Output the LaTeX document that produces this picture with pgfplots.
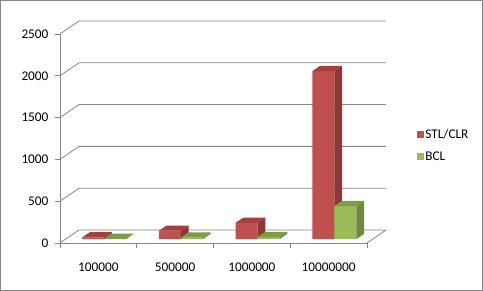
\documentclass[border=0pt]{standalone}
\usepackage{fontspec}
\setmainfont{Carlito}
\usepackage{pgfplots}
\pgfplotsset{compat=1.18}
\definecolor{gridc}{HTML}{868686}
\definecolor{redF}{HTML}{C0504D}
\definecolor{redS}{HTML}{8C3836}
\definecolor{redT}{HTML}{A33F3C}
\definecolor{grnF}{HTML}{9BBB59}
\definecolor{grnS}{HTML}{71893F}
\definecolor{grnT}{HTML}{7E9C47}
\begin{document}
\begin{tikzpicture}[x=1pt,y=1pt]
\draw[gridc, line width=1pt] (0.5,0.5) rectangle (482.5,290.5);
% walls, floor, axes
\begin{axis}[
  at={(60pt,48pt)}, anchor=south west,
  scale only axis, width=307pt, height=209pt,
  xmin=0, xmax=4, ymin=0, ymax=2500,
  clip=false,
  axis x line*=bottom, axis y line*=left,
  axis line style={gridc, line width=0.8pt, -},
  tick align=outside, major tick length=5pt,
  tick style={gridc, line width=0.8pt},
  xtick={0,1,2,3,4}, xticklabels={,,,,},
  extra x ticks={0.5,1.5,2.5,3.5},
  extra x tick labels={100000,500000,1000000,10000000},
  extra x tick style={major tick length=0pt},
  xticklabel style={yshift=-16pt},
  ytick={0,500,1000,1500,2000,2500},
  yticklabels={0,500,1000,1500,2000,2500},
  yticklabel style={xshift=-3pt},
  tick label style={font=\fontsize{13.3}{16}\selectfont, black},
  /pgf/number format/assume math mode=true,
]
\pgfplotsinvokeforeach{0,500,1000,1500,2000,2500}{
  \draw[gridc, line width=0.8pt] (axis cs:0,#1) -- (axis cs:0.2476,{#1+155.5}) -- (axis cs:4.2476,{#1+155.5});
}
\draw[gridc, line width=0.8pt] (axis cs:4,0) -- (axis cs:4.2476,155.5);
\end{axis}
% bars
\begin{axis}[
  at={(65.8pt,51.9pt)}, anchor=south west,
  scale only axis, width=307pt, height=209pt,
  xmin=0, xmax=4, ymin=0, ymax=2500,
  clip=false, hide axis,
  legend style={draw=none, fill=none, at={(1.133,0.545)}, anchor=north west,
    font=\fontsize{13.3}{16}\selectfont, row sep=9pt,
    nodes={inner sep=1.5pt},
    /tikz/every even column/.append style={column sep=3pt}},
  legend cell align=left,
]
% STL/CLR front faces
\addplot[ybar, bar width=22pt, bar shift=-11pt, fill=redF, draw=none,
  legend image code/.code={\fill[redF] (0pt,-3.5pt) rectangle (7pt,3.5pt);}]
  coordinates {(0.5,20) (1.5,100) (2.5,195) (3.5,2010)};
\addlegendentry{STL/CLR}
% STL/CLR side faces
\addplot[fill=redS, draw=none, forget plot] coordinates {(0.5,0) (0.5,20) (0.599,82.2) (0.599,62.2)};
\addplot[fill=redS, draw=none, forget plot] coordinates {(1.5,0) (1.5,100) (1.599,162.2) (1.599,62.2)};
\addplot[fill=redS, draw=none, forget plot] coordinates {(2.5,0) (2.5,195) (2.599,257.2) (2.599,62.2)};
\addplot[fill=redS, draw=none, forget plot] coordinates {(3.5,0) (3.5,2010) (3.599,2072.2) (3.599,62.2)};
% STL/CLR top faces
\addplot[fill=redT, draw=none, forget plot] coordinates {(0.2134,20) (0.5,20) (0.599,82.2) (0.3124,82.2)};
\addplot[fill=redT, draw=none, forget plot] coordinates {(1.2134,100) (1.5,100) (1.599,162.2) (1.3124,162.2)};
\addplot[fill=redT, draw=none, forget plot] coordinates {(2.2134,195) (2.5,195) (2.599,257.2) (2.3124,257.2)};
\addplot[fill=redT, draw=none, forget plot] coordinates {(3.2134,2010) (3.5,2010) (3.599,2072.2) (3.3124,2072.2)};
% BCL front faces
\addplot[ybar, bar width=22pt, bar shift=11pt, fill=grnF, draw=none,
  legend image code/.code={\fill[grnF] (0pt,-3.5pt) rectangle (7pt,3.5pt);}]
  coordinates {(0.5,3) (1.5,18) (2.5,25) (3.5,395)};
\addlegendentry{BCL}
% BCL side faces
\addplot[fill=grnS, draw=none, forget plot] coordinates {(0.7866,0) (0.7866,3) (0.8856,65.2) (0.8856,62.2)};
\addplot[fill=grnS, draw=none, forget plot] coordinates {(1.7866,0) (1.7866,18) (1.8856,80.2) (1.8856,62.2)};
\addplot[fill=grnS, draw=none, forget plot] coordinates {(2.7866,0) (2.7866,25) (2.8856,87.2) (2.8856,62.2)};
\addplot[fill=grnS, draw=none, forget plot] coordinates {(3.7866,0) (3.7866,395) (3.8856,457.2) (3.8856,62.2)};
% BCL top faces
\addplot[fill=grnT, draw=none, forget plot] coordinates {(0.5,3) (0.7866,3) (0.8856,65.2) (0.599,65.2)};
\addplot[fill=grnT, draw=none, forget plot] coordinates {(1.5,18) (1.7866,18) (1.8856,80.2) (1.599,80.2)};
\addplot[fill=grnT, draw=none, forget plot] coordinates {(2.5,25) (2.7866,25) (2.8856,87.2) (2.599,87.2)};
\addplot[fill=grnT, draw=none, forget plot] coordinates {(3.5,395) (3.7866,395) (3.8856,457.2) (3.599,457.2)};
\end{axis}
\end{tikzpicture}
\end{document}
